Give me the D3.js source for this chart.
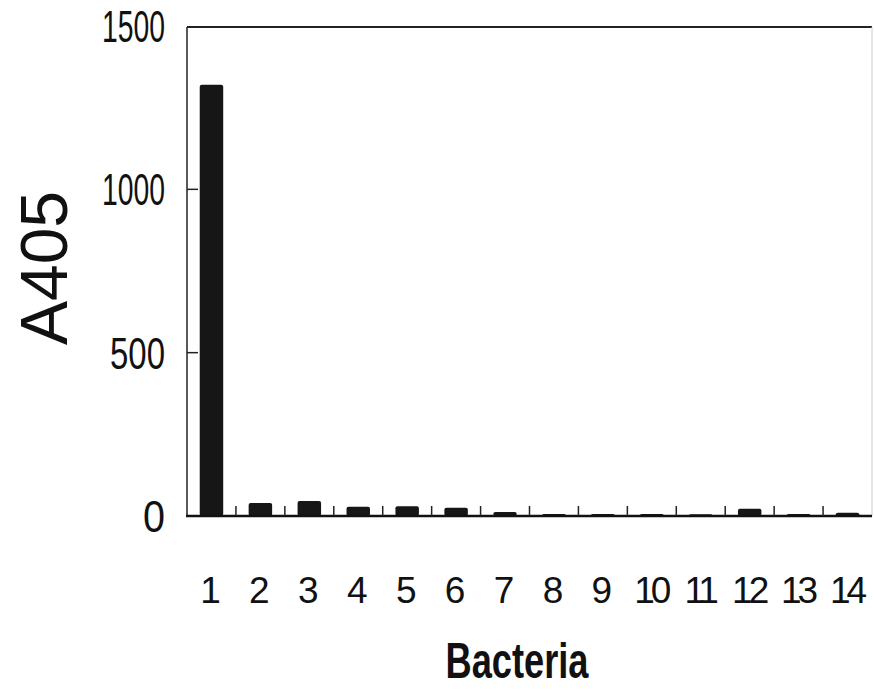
<!DOCTYPE html>
<html>
<head>
<meta charset="utf-8">
<script src="https://cdn.jsdelivr.net/npm/d3@7"></script>
<style>
  body { margin: 0; background: #fff; }
  text { font-family: "Liberation Sans", Arial, sans-serif; fill: #111; }
</style>
</head>
<body>
<svg id="chart" width="874" height="690"></svg>
<script>
// chart data
var categories = ['1','2','3','4','5','6','7','8','9','10','11','12','13','14'];
var a405 = [1320, 40, 46, 28, 30, 25, 12, 6, 6, 6, 5, 22, 6, 10];
var yTicks = [0, 500, 1000, 1500];

var svg = d3.select('#chart');

// frame of the plot (note: "top" is taken by window.top)
var plotLeft = 187, plotRight = 872, plotTop = 27, plotBottom = 516;

var x = d3.scaleBand()
  .domain(categories)
  .range([plotLeft, plotRight])
  .paddingInner(0.52)
  .paddingOuter(0.26);

var y = d3.scaleLinear()
  .domain([0, 1500])
  .range([plotBottom, plotTop - 1]);

// bars
svg.append('g').selectAll('rect')
  .data(categories)
  .enter()
  .append('rect')
  .attr('x', function(d) { return x(d); })
  .attr('width', x.bandwidth())
  .attr('y', function(d, i) { return y(a405[i]); })
  .attr('height', function(d, i) { return plotBottom - y(a405[i]); })
  .attr('rx', 2)
  .attr('fill', '#161616');

// frame lines (right edge is barely visible in the original)
svg.append('line').attr('x1', plotLeft).attr('x2', plotRight).attr('y1', plotTop).attr('y2', plotTop)
  .attr('stroke', '#222').attr('stroke-width', 2);
svg.append('line').attr('x1', plotLeft).attr('x2', plotLeft).attr('y1', plotTop).attr('y2', plotBottom)
  .attr('stroke', '#222').attr('stroke-width', 1.5);
svg.append('line').attr('x1', plotRight).attr('x2', plotRight).attr('y1', plotTop).attr('y2', plotBottom)
  .attr('stroke', '#ccc').attr('stroke-width', 1);
svg.append('line').attr('x1', plotLeft - 1).attr('x2', plotRight).attr('y1', plotBottom).attr('y2', plotBottom)
  .attr('stroke', '#111').attr('stroke-width', 2.5);

// y ticks point inward
svg.append('g').selectAll('line')
  .data(yTicks.slice(1, 3))
  .enter()
  .append('line')
  .attr('x1', plotLeft).attr('x2', plotLeft + 11)
  .attr('y1', function(d) { return y(d); })
  .attr('y2', function(d) { return y(d); })
  .attr('stroke', '#222').attr('stroke-width', 1.5);

// small x ticks between the categories
var half = x.step() * x.paddingInner() / 2;
svg.append('g').selectAll('line')
  .data(categories.slice(0, -1))
  .enter()
  .append('line')
  .attr('x1', function(d) { return x(d) + x.bandwidth() + half; })
  .attr('x2', function(d) { return x(d) + x.bandwidth() + half; })
  .attr('y1', plotBottom).attr('y2', plotBottom - 10)
  .attr('stroke', '#222').attr('stroke-width', 1.5);

// y tick labels, narrow face
var labelWidth = { '0': 22, '500': 55, '1000': 63, '1500': 63 };
svg.append('g').selectAll('text')
  .data(yTicks)
  .enter()
  .append('text')
  .attr('x', 165)
  .attr('y', function(d) { return y(d) + 16; })
  .attr('text-anchor', 'end')
  .attr('font-size', 44)
  .attr('textLength', function(d) { return labelWidth[d]; })
  .attr('lengthAdjust', 'spacingAndGlyphs')
  .text(function(d) { return d; });

// x tick labels
svg.append('g').selectAll('text')
  .data(categories)
  .enter()
  .append('text')
  .attr('x', function(d) { return x(d) + x.bandwidth() / 2 - 1; })
  .attr('y', 603)
  .attr('text-anchor', 'middle')
  .attr('font-size', 37)
  .attr('letter-spacing', function(d) { return d.length > 1 ? -4 : 0; })
  .text(function(d) { return d; });

// axis titles
svg.append('text')
  .attr('x', 517)
  .attr('y', 678)
  .attr('text-anchor', 'middle')
  .attr('font-size', 50)
  .attr('font-weight', 'bold')
  .attr('textLength', 143)
  .attr('lengthAdjust', 'spacingAndGlyphs')
  .text('Bacteria');

svg.append('text')
  .attr('transform', 'translate(67,268) rotate(-90)')
  .attr('text-anchor', 'middle')
  .attr('font-size', 66)
  .text('A405');
</script>
</body>
</html>
